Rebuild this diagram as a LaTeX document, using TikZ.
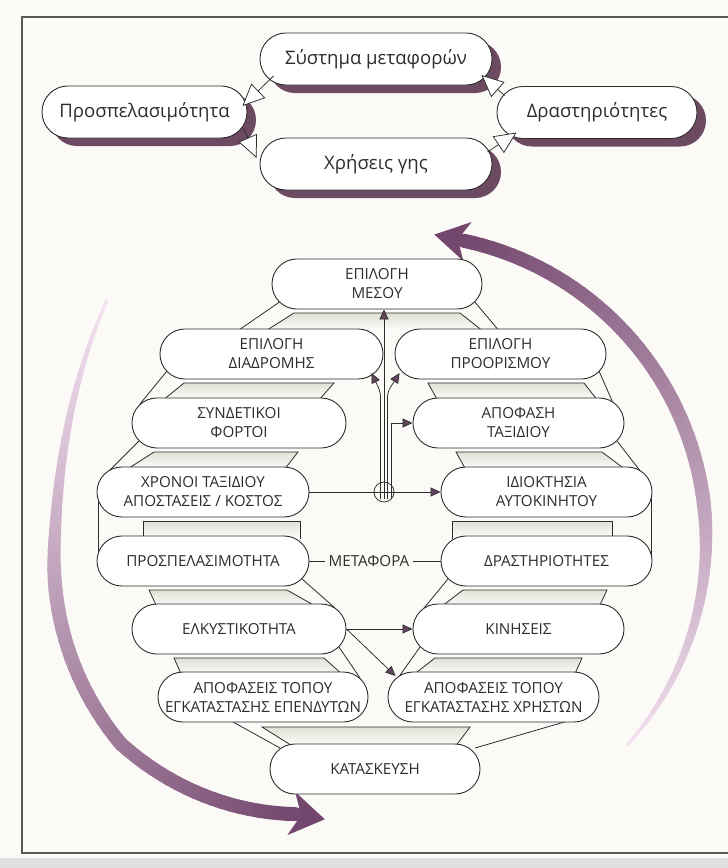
\documentclass[tikz,border=0pt]{standalone}
\usepackage{fontspec}
\setmainfont{Open Sans}
\usetikzlibrary{arrows.meta,calc}
\definecolor{paper}{RGB}{251,250,246}
\definecolor{mauve}{RGB}{108,74,98}
\definecolor{arcdark}{RGB}{116,72,110}
\definecolor{arclight}{RGB}{243,224,240}
\definecolor{bandshade}{RGB}{222,226,212}
\definecolor{ink}{RGB}{45,45,45}
\definecolor{tipfill}{RGB}{100,70,95}
\newcommand{\bandpoly}[4]{%
  \shade[top color=bandshade, middle color=white, bottom color=white] #1 -- #2 -- #3 -- #4 -- cycle;
  \draw[bandline] #4 -- #1 -- #2 -- #3;}
\begin{document}
\begin{tikzpicture}[x=1bp, y=-1bp,
  pill/.style={draw=ink, line width=0.9bp, fill=white, rounded corners=24.9bp,
    minimum height=50bp, minimum width=211bp, inner sep=0pt, align=center,
    text=ink, font=\fontsize{15.2bp}{19bp}\selectfont},
  toppill/.style={draw=ink, line width=0.9bp, fill=white, rounded corners=25.9bp,
    minimum height=52bp, inner sep=0pt, text=ink, font=\fontsize{18.6bp}{22bp}\selectfont},
  shadowpill/.style={fill=mauve, draw=none, rounded corners=25.9bp,
    minimum height=52bp, inner sep=0pt},
  bandline/.style={draw=ink, line width=0.8bp},
  conn/.style={draw=ink, line width=0.75bp},
  tipA/.style={-{Triangle[length=10bp,width=9bp,fill=tipfill]}},
  tipO/.style={-{Triangle[length=22bp,width=20bp,fill=white]}},
]
\useasboundingbox (0,0) rectangle (728,868);
\fill[paper] (0,0) rectangle (728,868);
\fill[black!12] (0,858) rectangle (728,868);
\draw[line width=1.2bp, black!65] (735,17) -- (22,17) -- (22,853) -- (735,853);

% ---------- big circular arrows ----------
\foreach \i in {0,...,63}{
  \pgfmathsetmacro{\tt}{\i/64}
  \pgfmathsetmacro{\ta}{228-128*\i/64}
  \pgfmathsetmacro{\tb}{228-128*(\i+1)/64}
  \pgfmathsetmacro{\ra}{286+0.0296*(max(\ta-182,0))^2-0.7*max(140-\ta,0)}
  \pgfmathsetmacro{\rb}{286+0.0296*(max(\tb-182,0))^2-0.7*max(140-\tb,0)}
  \pgfmathsetmacro{\w}{3+11*min(\tt/0.4,1)}
  \pgfmathsetmacro{\c}{100*\tt}
  \draw[line width=\w bp, line cap=round, color=arcdark!\c!arclight]
    ({340+\ra*cos(\ta)},{560+\ra*sin(\ta)}) -- ({340+\rb*cos(\tb)},{560+\rb*sin(\tb)});
}
\fill[arcdark] (324.8,819.3) -- (287.4,835.1) -- (301.1,815.1) -- (295.1,791.7) -- cycle;
\foreach \i in {0,...,63}{
  \pgfmathsetmacro{\tt}{\i/64}
  \pgfmathsetmacro{\ta}{42-120*\i/64}
  \pgfmathsetmacro{\tb}{42-120*(\i+1)/64}
  \pgfmathsetmacro{\w}{3+11*min(\tt/0.4,1)}
  \pgfmathsetmacro{\c}{100*\tt}
  \draw[line width=\w bp, line cap=round, color=arcdark!\c!arclight]
    ({400+306*cos(\ta)},{540+306*sin(\ta)}) -- ({400+306*cos(\tb)},{540+306*sin(\tb)});
}
\fill[arcdark] (434.3,234.5) -- (471.7,222.0) -- (457.7,239.5) -- (463.4,261.1) -- cycle;

% ---------- top cycle ----------
\node[shadowpill, minimum width=232bp] (s1) at (385,67) {};
\node[shadowpill, minimum width=205bp] (s2) at (153.5,120) {};
\node[shadowpill, minimum width=232bp] (s3) at (385,172) {};
\node[shadowpill, minimum width=200bp] (s4) at (606,120.5) {};
\node[toppill, minimum width=232bp] (syst) at (376,59) {Σύστημα μεταφορών};
\node[toppill, minimum width=205bp] (pros) at (144.5,112) {Προσπελασιμότητα};
\node[toppill, minimum width=232bp] (xris) at (376,164) {Χρήσεις γης};
\node[toppill, minimum width=200bp] (dras) at (597,112.5) {Δραστηριότητες};
\draw[conn, tipO] ($(syst.west)+(14,17)$) -- ($(pros.east)+(-5,-6)$);
\draw[conn, tipO] ($(pros.east)+(-4,16)$) -- ($(xris.west)+(-3,-6)$);
\draw[conn, tipO] ($(xris.east)+(-5,-12)$) -- ($(dras.west)+(20,20)$);
\draw[conn, tipO] ($(dras.west)+(8,-17)$) -- ($(syst.east)+(-11,16)$);

% ---------- bands of the stack ----------
\bandpoly{(294,313)}{(460,313)}{(484,332)}{(264,332)}
\draw[bandline] (281,301) -- (236,332);
\draw[bandline] (474,301) -- (500,332);
\bandpoly{(184,383)}{(334,383)}{(318,401)}{(162,401)}
\draw[bandline] (167,371) -- (140,404);
\bandpoly{(428,383)}{(584,383)}{(598,401)}{(438,401)}
\draw[bandline] (599,371) -- (613,403);
\bandpoly{(154,452)}{(298,452)}{(284,470)}{(126,470)}
\draw[bandline] (139,441) -- (108,472);
\bandpoly{(456,452)}{(602,452)}{(626,470)}{(466,470)}
\draw[bandline] (617,441) -- (641,472);
\bandpoly{(143,521)}{(300,521)}{(300,539)}{(143,539)}
\draw[bandline] (98,497) -- (98,556);
\bandpoly{(452,521)}{(612,521)}{(612,539)}{(452,539)}
\draw[bandline] (651,497) -- (651,556);
\bandpoly{(149,590)}{(287,590)}{(317,607)}{(157,607)}
\draw[bandline] (302,579) -- (335,608);
\bandpoly{(463,590)}{(607,590)}{(599,607)}{(441,607)}
\draw[bandline] (448,579) -- (424,608);
\bandpoly{(174,658)}{(324,658)}{(344,676)}{(182,676)}
\draw[bandline] (339,647) -- (360,678);
\bandpoly{(435,658)}{(582,658)}{(574,676)}{(412,676)}
\draw[bandline] (420,647) -- (398,678);
\bandpoly{(262,727)}{(470,727)}{(455,747)}{(294,747)}
\draw[bandline] (233,722) -- (280,748);
\draw[bandline] (585,716) -- (475,748);

% ---------- pills ----------
\node[pill, minimum width=210bp] (P1) at (377,284) {ΕΠΙΛΟΓΗ\\ΜΕΣΟΥ};
\node[pill, minimum width=223bp] (P2L) at (271.5,354) {ΕΠΙΛΟΓΗ\\ΔΙΑΔΡΟΜΗΣ};
\node[pill] (P2R) at (500.5,354) {ΕΠΙΛΟΓΗ\\ΠΡΟΟΡΙΣΜΟΥ};
\node[pill, minimum width=214bp] (P3L) at (239,423) {ΣΥΝΔΕΤΙΚΟΙ\\ΦΟΡΤΟΙ};
\node[pill] (P3R) at (518.5,423) {ΑΠΟΦΑΣΗ\\ΤΑΞΙΔΙΟΥ};
\node[pill, minimum width=212bp] (P4L) at (203,492) {ΧΡΟΝΟΙ ΤΑΞΙΔΙΟΥ\\ΑΠΟΣΤΑΣΕΙΣ / ΚΟΣΤΟΣ};
\node[pill] (P4R) at (546.5,492) {ΙΔΙΟΚΤΗΣΙΑ\\ΑΥΤΟΚΙΝΗΤΟΥ};
\node[pill, minimum width=212bp] (P5L) at (203,561) {ΠΡΟΣΠΕΛΑΣΙΜΟΤΗΤΑ};
\node[pill] (P5R) at (546.5,561) {ΔΡΑΣΤΗΡΙΟΤΗΤΕΣ};
\node[pill, minimum width=214bp] (P6L) at (239,629) {ΕΛΚΥΣΤΙΚΟΤΗΤΑ};
\node[pill] (P6R) at (518.5,629) {ΚΙΝΗΣΕΙΣ};
\node[pill, minimum width=210bp] (P7L) at (263,697) {ΑΠΟΦΑΣΕΙΣ ΤΟΠΟΥ\\ΕΓΚΑΤΑΣΤΑΣΗΣ ΕΠΕΝΔΥΤΩΝ};
\node[pill] (P7R) at (493.5,697) {ΑΠΟΦΑΣΕΙΣ ΤΟΠΟΥ\\ΕΓΚΑΤΑΣΤΑΣΗΣ ΧΡΗΣΤΩΝ};
\node[pill, minimum width=210bp] (P8) at (375,769) {ΚΑΤΑΣΚΕΥΣΗ};

% ---------- connectors ----------
\node[circle, draw=ink, line width=0.75bp, minimum size=20bp, inner sep=0pt] (hub) at (384,492) {};
\coordinate (apx) at ($(hub.center)+(7,0)$);
\draw[conn, tipA] (P4L.east) -- (P4R.west);
\draw[conn, tipA] ($(hub.center)+(0,7)$) -- (hub |- P1.south);
\draw[conn, tipA, rounded corners=5bp] ($(hub.center)+(-3.5,7)$) -- ($(hub.center)+(-3.5,-100)$) -- ($(P2L.east)+(-12,19)$);
\draw[conn, tipA, rounded corners=5bp] ($(hub.center)+(3.5,7)$) -- ($(hub.center)+(3.5,-100)$) -- ($(P2R.west)+(5,19)$);
\draw[conn, tipA] ($(apx)+(0,7)$) -- (apx |- P3R.west) -- (P3R.west);
\draw[conn, tipA] (P6L.east) -- (P6R.west);
\draw[conn, tipA] (P6L.east) -- ($(P7R.west)+(8,-21)$);
\node[text=ink, inner sep=3bp, font=\fontsize{15.2bp}{19bp}\selectfont] (meta) at (369,561) {ΜΕΤΑΦΟΡΑ};
\draw[conn] (P5L.east) -- (meta.west);
\draw[conn] (meta.east) -- (P5R.west);
\end{tikzpicture}
\end{document}
